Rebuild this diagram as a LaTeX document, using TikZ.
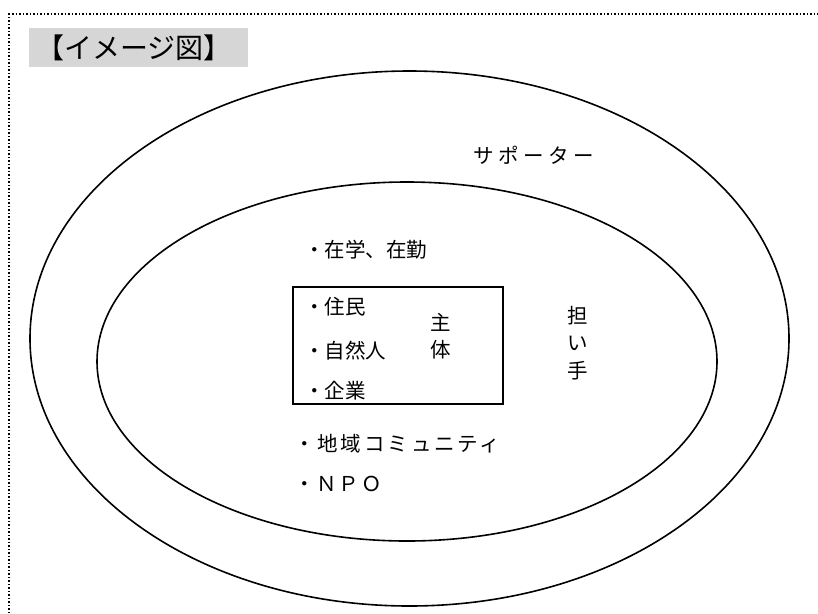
\documentclass[tikz,border=0pt]{standalone}
\usepackage{fontspec}
\newfontfamily\jpfont{Noto Sans CJK JP}
\usetikzlibrary{shapes.geometric}
\begin{document}
\begin{tikzpicture}[x=1pt,y=-1pt,
  ring/.style={draw,ellipse,line width=1.6pt,inner sep=0pt},
  body/.style={font=\jpfont\fontsize{20.5}{24}\selectfont,inner sep=0pt,anchor=west},
  vert/.style={font=\jpfont\fontsize{20.5}{27.5}\selectfont,inner sep=0pt,align=center}]
\useasboundingbox (0,0) rectangle (818,613);
% dotted frame
\coordinate (fa) at (9,613);
\coordinate (fb) at (9,14);
\coordinate (fc) at (818,14);
\draw[dotted,line width=1.5pt] (fa) -- (fb) -- (fc);
% title
\node[fill=black!16,minimum width=219pt,minimum height=39pt,inner sep=0pt,anchor=north west] (title) at (29,28) {};
\node[font=\jpfont\fontsize{28}{32}\selectfont,inner sep=0pt,anchor=west] (titletext) at (36,48) {【イメージ図】};
% ellipses
\node[ring,minimum width=759pt,minimum height=535pt] (outer) at (409.5,338.5) {};
\node[ring,minimum width=620pt,minimum height=359pt] (inner) at (407,361.5) {};
% box
\node[draw,line width=1.3pt,minimum width=210pt,minimum height=117pt,inner sep=0pt] (box) at (398,345.5) {};
% texts
\node[body,font=\jpfont\fontsize{20.5}{24}\selectfont\addfontfeature{LetterSpace=22}] (sup) at (473,155) {サポーター};
\node[body] (zai) at (304,250) {・在学、在勤};
\node[body] (jum) at (304,307) {・住民};
\node[body] (shi) at (304,351) {・自然人};
\node[body] (kig) at (304,391) {・企業};
\node[vert] (shu) at (441,336) {主\\体};
\node[vert] (nin) at (578,343) {担\\い\\手};
\node[body,font=\jpfont\fontsize{20.5}{24}\selectfont\addfontfeature{LetterSpace=14}] (chi) at (294,444) {・地域コミュニティ};
\node[body,font=\jpfont\fontsize{20.5}{24}\selectfont\addfontfeature{LetterSpace=9}] (npo) at (294,484) {・ＮＰＯ};
\end{tikzpicture}
\end{document}
